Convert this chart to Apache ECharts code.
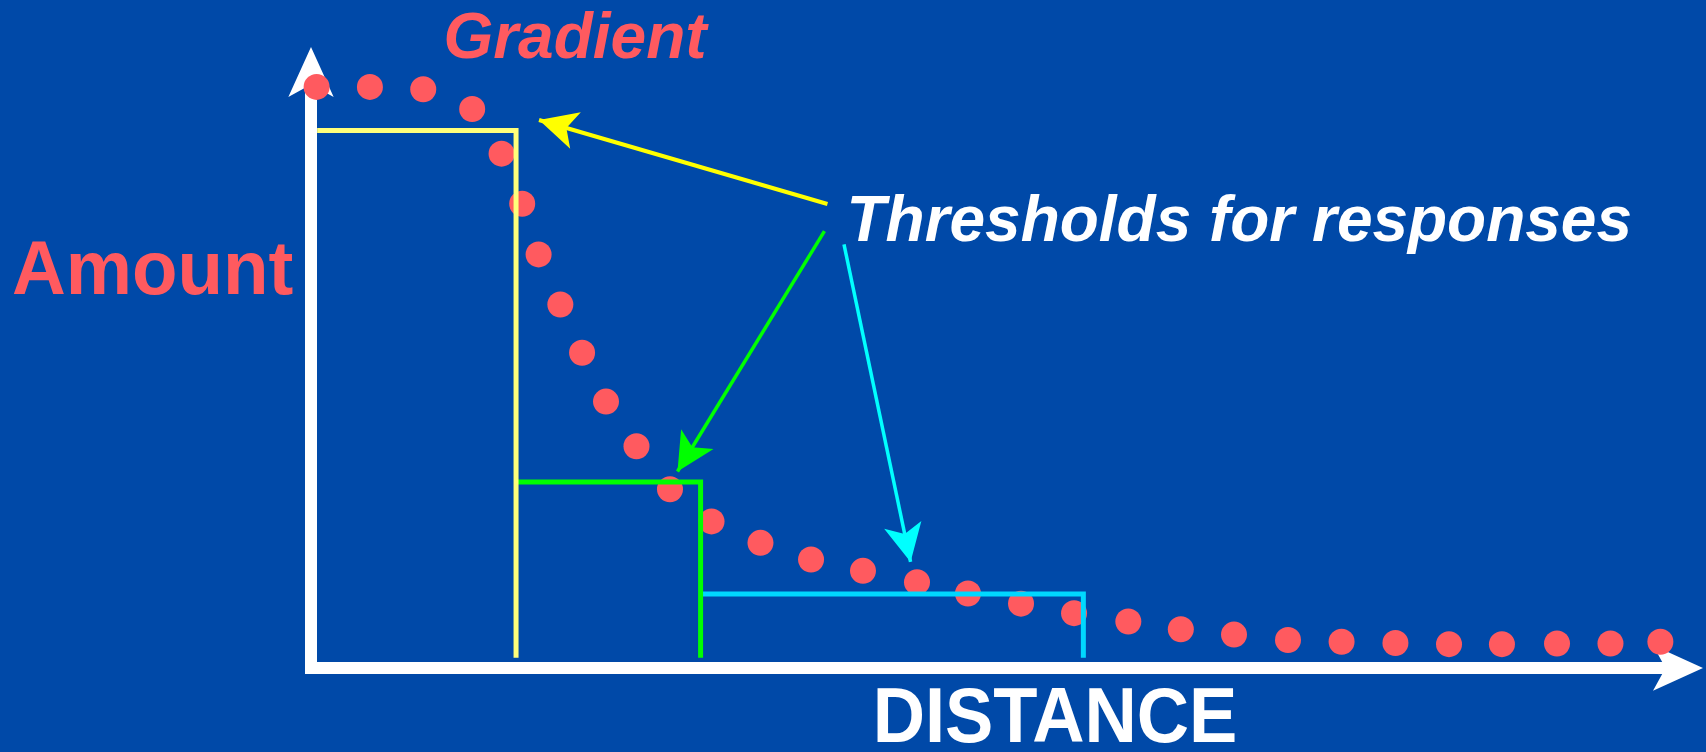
<!DOCTYPE html>
<html>
<head>
<meta charset="utf-8">
<script src="https://cdn.jsdelivr.net/npm/echarts@6/dist/echarts.min.js"></script>
<style>
  html, body { margin: 0; padding: 0; background: #0049A8; }
  #chart { width: 1706px; height: 752px; }
</style>
</head>
<body>
<div id="chart"></div>
<script>
// ---- data (arbitrary units: distance 0-100, amount 0-100) ----
const distance = [0.41, 4.31, 8.21, 11.79, 13.94, 15.45, 16.65, 18.24, 19.83, 21.58, 23.81,
  26.26, 29.30, 32.88, 36.58, 40.38, 44.33, 48.06, 51.94, 55.82, 59.79, 63.63, 67.52,
  71.47, 75.39, 79.33, 83.25, 87.12, 91.15, 95.06, 98.71];
const amount = [97.5, 97.5, 97.1, 93.8, 86.3, 77.9, 69.4, 61.0, 52.9, 44.7, 37.2,
  30.0, 24.6, 21.0, 18.2, 16.3, 14.4, 12.5, 10.8, 9.2, 7.8, 6.5, 5.6,
  4.7, 4.4, 4.2, 4.0, 4.0, 4.1, 4.1, 4.4];

const thresholdLevel = [90.2, 31.2, 12.4];
const thresholdStart = [0.45, 15.0, 28.5];
const thresholdEnd = [15.0, 28.5, 56.5];
const thresholdBase = 1.7;

// annotation arrows: label end -> tip (data units)
const arrowFrom = [[37.78, 77.85], [37.56, 73.3], [38.99, 71.06]];
const arrowTo = [[16.68, 91.95], [26.81, 32.97], [43.86, 17.79]];

const texts = {
  gradient: 'Gradient',
  amount: 'Amount',
  distance: 'DISTANCE',
  thresholds: 'Thresholds for responses'
};

// ---- styles ----
const RED = '#FF5A5F';
const thresholdColors = ['#FFFF7A', '#00FF00', '#00D8FF'];
const arrowColors = ['#FFFF00', '#00FF00', '#00FFFF'];
const thresholdZ = [6, 5, 4];

const points = distance.map((d, i) => [d, amount[i]]);

const thresholdSeries = thresholdLevel.map((lvl, i) => ({
  type: 'line',
  name: 'threshold' + i,
  data: [[thresholdStart[i], lvl], [thresholdEnd[i], lvl], [thresholdEnd[i], thresholdBase]],
  symbol: 'none',
  silent: true,
  z: thresholdZ[i],
  lineStyle: { color: thresholdColors[i], width: 5, join: 'miter', cap: 'butt' },
  animation: false
}));

const arrowHead = [28.5, 38];
const annotationSeries = {
  type: 'line',
  name: 'annotations',
  data: [],
  silent: true,
  z: 7,
  animation: false,
  markLine: {
    silent: true,
    animation: false,
    label: { show: false },
    emphasis: { disabled: true },
    data: arrowFrom.map((f, i) => [
      { coord: f, symbol: 'none', lineStyle: { color: arrowColors[i], width: i === 0 ? 4 : 3.5, type: 'solid' }, itemStyle: { color: arrowColors[i] } },
      { coord: arrowTo[i], symbol: 'arrow', symbolSize: arrowHead,
        lineStyle: { color: arrowColors[i], width: i === 0 ? 4 : 3.5, type: 'solid' }, itemStyle: { color: arrowColors[i] } }
    ])
  }
};

const axisCommon = {
  type: 'value',
  min: 0,
  max: 100,
  axisTick: { show: false },
  axisLabel: { show: false },
  splitLine: { show: false },
  axisLine: {
    show: true,
    onZero: false,
    symbol: ['none', 'arrow'],
    symbolSize: [34, 50],
    symbolOffset: [0, 25],
    lineStyle: { color: '#FFFFFF', width: 12, cap: 'square' }
  }
};

const chart = echarts.init(document.getElementById('chart'), null, { renderer: 'canvas' });
chart.setOption({
  backgroundColor: '#0049A8',
  animation: false,
  grid: { left: 311, right: 28, top: 72, bottom: 84, containLabel: false },
  xAxis: axisCommon,
  yAxis: axisCommon,
  series: [
    {
      type: 'scatter',
      name: 'Gradient',
      data: points,
      symbol: 'circle',
      symbolSize: 26,
      z: 3,
      silent: true,
      itemStyle: { color: RED, opacity: 1 },
      animation: false
    },
    ...thresholdSeries,
    annotationSeries
  ],
  graphic: [
    { type: 'text', x: 575, y: 40, z: 10,
      style: { text: texts.gradient, font: 'italic bold 64px "Liberation Sans", Arial, sans-serif', fill: RED, align: 'center', verticalAlign: 'middle' } },
    { type: 'text', x: 12, y: 273, z: 10, scaleX: 0.98,
      style: { text: texts.amount, font: 'bold 76px "Liberation Sans", Arial, sans-serif', fill: RED, align: 'left', verticalAlign: 'middle' } },
    { type: 'text', x: 846.5, y: 223.5, z: 10, scaleX: 0.984,
      style: { text: texts.thresholds, font: 'italic bold 65px "Liberation Sans", Arial, sans-serif', fill: '#FFFFFF', align: 'left', verticalAlign: 'middle' } },
    { type: 'text', x: 1055, y: 720.5, z: 10, scaleX: 0.94,
      style: { text: texts.distance, font: 'bold 77px "Liberation Sans", Arial, sans-serif', fill: '#FFFFFF', align: 'center', verticalAlign: 'middle' } }
  ]
});
</script>
</body>
</html>
